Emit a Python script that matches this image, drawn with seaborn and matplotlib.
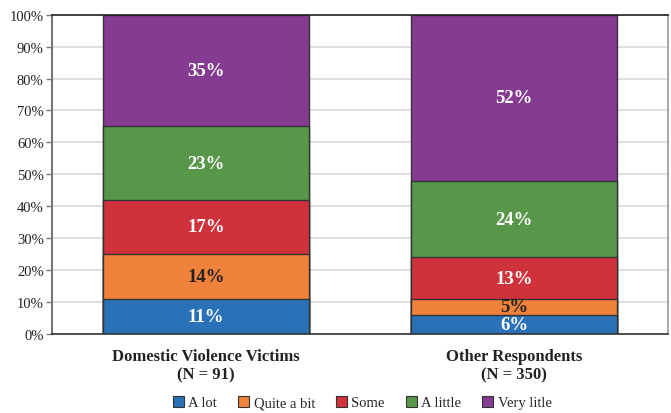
import seaborn as sns
import matplotlib.pyplot as plt
import pandas as pd
import numpy as np
from matplotlib.patches import Patch
from matplotlib.ticker import PercentFormatter

# Data (percent of respondents)
groups = ['Domestic Violence Victims\n(N = 91)', 'Other Respondents\n(N = 350)']
levels = ['A lot', 'Quite a bit', 'Some', 'A little', 'Very litle']
a_lot = [11, 6]
quite_a_bit = [14, 5]
some = [17, 13]
a_little = [23, 24]
very_little = [35, 52]

colors = ['#2a72b8', '#f0823c', '#d0323c', '#58974a', '#843b91']
label_colors = ['white', '#222222', 'white', 'white', 'white']

sns.set_theme(style="white")
plt.rcParams['font.family'] = ['Liberation Serif', 'DejaVu Serif']

values = np.array([a_lot, quite_a_bit, some, a_little, very_little], dtype=float)
cum = values.cumsum(axis=0)

fig = plt.figure(figsize=(6.71, 4.14), dpi=100)
ax = fig.add_axes([0.0775, 0.191, 0.918, 0.771])

# stacked bars: draw cumulative totals from the top layer down
for i in reversed(range(len(levels))):
    df = pd.DataFrame({'Group': groups, 'Total': cum[i]})
    sns.barplot(data=df, x='Group', y='Total', color=colors[i], width=0.67,
                edgecolor='#333333', linewidth=1.0, saturation=1, ax=ax)

# segment labels
for i in range(len(levels)):
    for j in range(len(groups)):
        mid = cum[i, j] - values[i, j] / 2
        ax.text(j, mid, f"{values[i, j]:.0f}%", ha='center', va='center',
                fontsize=13.5, fontweight='bold', color=label_colors[i])

ax.set_ylim(0, 100)
ax.set_xlim(-0.5, 1.5)
ax.set_yticks(np.arange(0, 101, 10))
ax.yaxis.set_major_formatter(PercentFormatter(decimals=0))
ax.yaxis.grid(True, color='#d9d9d9', linewidth=1.2)
ax.set_axisbelow(True)
ax.set_xlabel('')
ax.set_ylabel('')
ax.tick_params(axis='y', labelsize=10.5, length=4, width=1, color='#777777',
               left=True, pad=2, labelcolor='#222222')
ax.tick_params(axis='x', length=0, pad=10)
for lbl in ax.get_xticklabels():
    lbl.set_fontsize(12)
    lbl.set_fontweight('bold')
    lbl.set_color('#222222')

ax.spines['top'].set_color('#222222')
ax.spines['top'].set_linewidth(1.2)
ax.spines['right'].set_color('#999999')
ax.spines['right'].set_linewidth(1.2)
ax.spines['left'].set_color('#777777')
ax.spines['left'].set_linewidth(1.5)
ax.spines['bottom'].set_color('#333333')
ax.spines['bottom'].set_linewidth(1.2)

handles = [Patch(facecolor=c, edgecolor='#333333', linewidth=0.8) for c in colors]
fig.legend(handles, levels, loc='center', bbox_to_anchor=(0.54, 0.025), ncol=5,
           frameon=False, fontsize=10.5, handlelength=0.75, handleheight=0.75,
           handletextpad=0.3, columnspacing=1.45)

plt.savefig('out.png', dpi=100)
